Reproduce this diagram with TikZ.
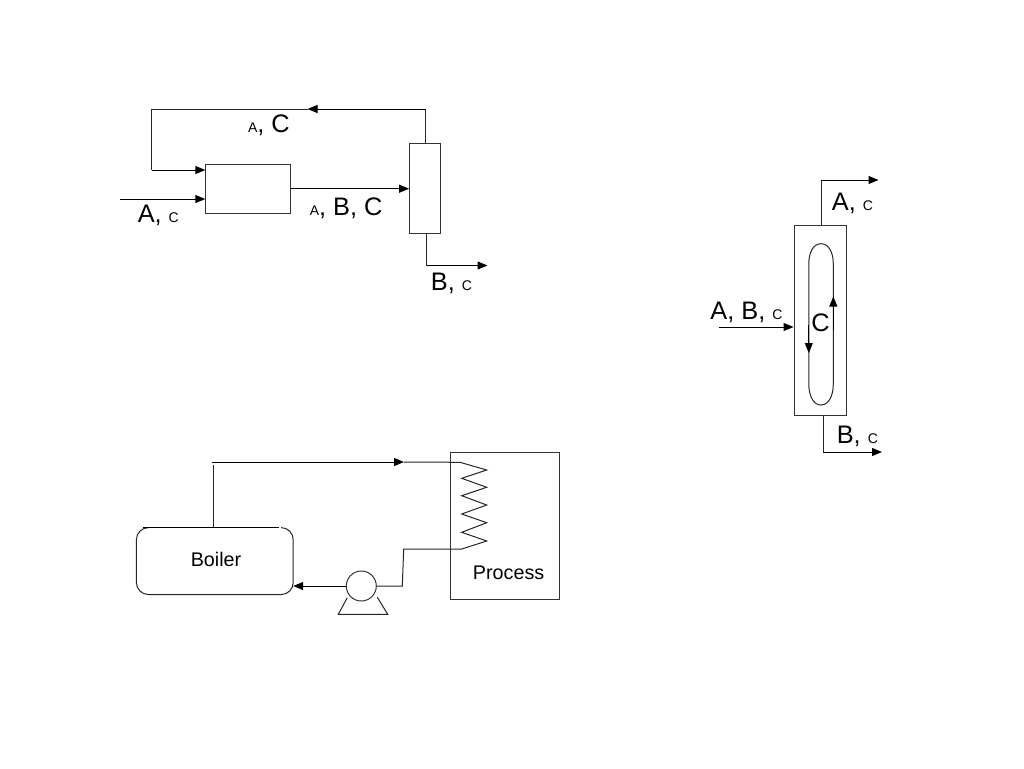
\documentclass[tikz,border=0pt]{standalone}
\usepackage{fontspec}
\setmainfont{Liberation Sans}
\usetikzlibrary{arrows.meta}
\newcommand{\bigt}{\fontsize{19}{20}\selectfont}
\newcommand{\smt}{\fontsize{10.5}{12}\selectfont}
\tikzset{
  box/.style={draw=black!80,line width=0.75pt,inner sep=0pt,fill=white},
  pipe/.style={draw=black!85,line width=0.75pt},
  flow/.style={draw=black,line width=0.75pt,-{Triangle[length=7.5pt,width=6pt]}},
  lab/.style={anchor=base west,inner sep=0pt,text=black},
  stream/.style={lab,font=\bigt},
  plain/.style={lab,font=\fontsize{14.8}{16}\selectfont}
}
\begin{document}
\begin{tikzpicture}[x=0.75pt,y=-0.75pt]
\useasboundingbox[fill=white] (0,0) rectangle (1024,768);
% top-left process
\node[box,minimum width=63.3pt,minimum height=37pt] (reactor) at (248,188.7) {};
\node[box,minimum width=23.4pt,minimum height=67.5pt] (col) at (425.2,188.7) {};
\coordinate (feed) at (119.5,199);
\coordinate (rectop) at (425.8,109);
\coordinate (recmid) at (307.5,109);
\coordinate (recleft) at (151.8,109);
\coordinate (recin) at (151.8,170);
\coordinate (botout) at (426.7,265.5);
\coordinate (botend) at (487.5,265.5);
\draw[pipe] (col.north -| rectop) -- (rectop);
\draw[flow] (rectop) -- (recmid);
\draw[pipe] (recmid) -- (recleft) -- (recin);
\draw[flow] (recin) -- (recin -| reactor.west);
\draw[flow] (feed) -- (feed -| reactor.west);
\draw[flow] (reactor.east) -- (col.west);
\draw[pipe] (col.south -| botout) -- (botout);
\draw[flow] (botout) -- (botend);
\node[stream] (t1) at (247.8,132.3) {{\smt A}, C};
\node[stream] (t2) at (309.5,215) {{\smt A}, B, C};
\node[stream] (t3) at (137.5,222.7) {A, {\smt C}};
\node[stream] (t4) at (430.7,290) {B, {\smt C}};
% right column
\node[box,minimum width=39.2pt,minimum height=142.5pt] (tower) at (820.2,320.7) {};
\coordinate (looptop) at (821,243.7);
\coordinate (loopbot) at (821,405);
\coordinate (topup) at (821.2,180);
\coordinate (topend) at (878.5,180);
\coordinate (lowdown) at (823.2,452);
\coordinate (lowend) at (882,452);
\coordinate (inlet) at (718.5,327);
\coordinate (upbase) at (833.3,330);
\coordinate (uptip) at (833.3,296.5);
\coordinate (downbase) at (808.8,325);
\coordinate (downtip) at (808.8,353);
\draw[pipe] (looptop) .. controls (813.5,243.7) and (808.8,252) .. (808.8,264) -- (808.8,384) .. controls (808.8,396) and (813.5,405) .. (loopbot) .. controls (828.5,405) and (833.3,396) .. (833.3,384) -- (833.3,264) .. controls (833.3,252) and (828.5,243.7) .. (looptop);
\draw[pipe] (tower.north -| topup) -- (topup);
\draw[flow] (topup) -- (topend);
\draw[pipe] (tower.south -| lowdown) -- (lowdown);
\draw[flow] (lowdown) -- (lowend);
\draw[flow] (inlet) -- (inlet -| tower.west);
\draw[flow] (upbase) -- (uptip);
\draw[flow] (downbase) -- (downtip);
\node[stream] (t5) at (831.6,210) {A, {\smt C}};
\node[stream] (t6) at (710.2,319) {A, B, {\smt C}};
\node[stream] (t7) at (811.2,331) {C};
\node[stream] (t8) at (836.5,443.3) {B, {\smt C}};
% boiler loop
\node[box,minimum width=81.2pt,minimum height=110.5pt] (process) at (504.9,526.2) {};
\node[inner sep=0pt,minimum width=117.2pt,minimum height=50.2pt] (boiler) at (214.8,560.8) {};
\draw[pipe,rounded corners=9pt] (281,527.6) -| (boiler.east) |- (boiler.south) -| (boiler.west) |- (146,527.6);
\draw[draw=black,line width=0.8pt] (142.5,527.4) -- (278.5,527.4);
\node[box,circle,minimum size=22.5pt] (pump) at (361.3,586) {};
\coordinate (steamup) at (213,462);
\coordinate (steamtip) at (404,462);
\coordinate (coilin) at (460,462.3);
\coordinate (coilout) at (461.7,549);
\coordinate (retA) at (403.7,549);
\coordinate (retB) at (402.3,586);
\coordinate (stL) at (347.3,597.7);
\coordinate (stR) at (377.3,597.2);
\coordinate (baseL) at (338.3,614.3);
\coordinate (baseR) at (387.7,614.3);
\draw[pipe] (213,527) -- (213,465);
\draw[flow] (212,462) -- (steamtip);
\draw[pipe] (steamtip) -- (coilin) -- (486.7,470) -- (461.7,478.3) -- (486.7,487.3) -- (461.7,495.7) -- (486.7,505) -- (461.7,514) -- (486.7,522.7) -- (461.7,532.3) -- (486.7,541) -- (coilout) -- (retA) -- (retB) -- (pump.east);
\draw[flow] (pump.west) -- (boiler.east |- pump.west);
\draw[pipe] (stL) -- (baseL) -- (baseR) -- (stR);
\node[plain] (t9) at (190.5,566.7) {Boiler};
\node[plain] (t10) at (472.7,579) {Process};
\end{tikzpicture}
\end{document}
